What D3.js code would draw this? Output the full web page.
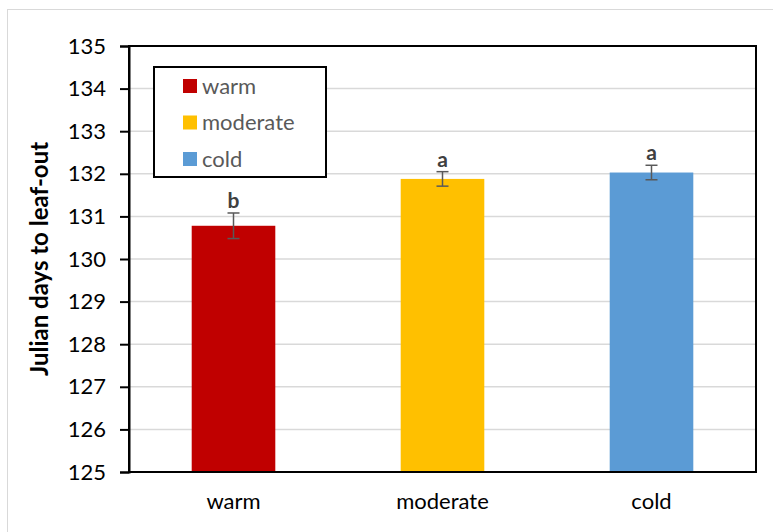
<!DOCTYPE html>
<html>
<head>
<meta charset="utf-8">
<script src="https://cdn.jsdelivr.net/npm/d3@7"></script>
<style>
  body { margin: 0; background: #fff; }
  text { font-family: Lato, "Liberation Sans", sans-serif; }
</style>
</head>
<body>
<script>
// data
const categories = ["warm", "moderate", "cold"];
const values = [130.78, 131.88, 132.03];
const errors = [0.30, 0.17, 0.17];
const letters = ["b", "a", "a"];
const colors = ["#c00000", "#ffc000", "#5b9bd5"];
const yTicks = [125, 126, 127, 128, 129, 130, 131, 132, 133, 134, 135];

const width = 773, height = 532;
const margin = { top: 46, right: 17, bottom: 60, left: 129 };

const svg = d3.select("body").append("svg")
  .attr("width", width)
  .attr("height", height);

// outer chart frame
svg.append("rect")
  .attr("x", 7.5).attr("y", 9.5)
  .attr("width", width).attr("height", height)
  .attr("fill", "none")
  .attr("stroke", "#d9d9d9");

const x = d3.scaleBand()
  .domain(categories)
  .range([margin.left, width - margin.right])
  .paddingInner(0.6)
  .paddingOuter(0.3);

const y = d3.scaleLinear()
  .domain([125, 135])
  .range([height - margin.bottom, margin.top]);

// gridlines
svg.append("g")
  .selectAll("line")
  .data(yTicks.slice(1, -1))
  .join("line")
  .attr("x1", margin.left).attr("x2", width - margin.right)
  .attr("y1", d => y(d)).attr("y2", d => y(d))
  .attr("stroke", "#d9d9d9")
  .attr("stroke-width", 1.5);

// bars
svg.append("g")
  .selectAll("rect")
  .data(categories)
  .join("rect")
  .attr("x", d => x(d))
  .attr("width", x.bandwidth())
  .attr("y", (d, i) => y(values[i]))
  .attr("height", (d, i) => y(125) - y(values[i]))
  .attr("fill", (d, i) => colors[i]);

// error bars
const eb = svg.append("g").attr("stroke", "#595959").attr("stroke-width", 1.5);
categories.forEach((c, i) => {
  const cx = x(c) + x.bandwidth() / 2;
  const top = y(values[i] + errors[i]), bot = y(values[i] - errors[i]);
  eb.append("line").attr("x1", cx).attr("x2", cx).attr("y1", top).attr("y2", bot);
  eb.append("line").attr("x1", cx - 6).attr("x2", cx + 6).attr("y1", top).attr("y2", top);
  eb.append("line").attr("x1", cx - 6).attr("x2", cx + 6).attr("y1", bot).attr("y2", bot);
});

// significance letters
svg.append("g")
  .selectAll("text")
  .data(categories)
  .join("text")
  .attr("x", d => x(d) + x.bandwidth() / 2)
  .attr("y", (d, i) => y(values[i] + errors[i]) - 5)
  .attr("text-anchor", "middle")
  .attr("font-size", 21)
  .attr("font-weight", "bold")
  .attr("fill", "#404040")
  .text((d, i) => letters[i]);

// plot frame
svg.append("rect")
  .attr("x", margin.left).attr("y", margin.top)
  .attr("width", width - margin.right - margin.left)
  .attr("height", height - margin.bottom - margin.top)
  .attr("fill", "none")
  .attr("stroke", "#000")
  .attr("stroke-width", 2);

// y axis
const yAxis = svg.append("g")
  .attr("transform", `translate(${margin.left},0)`)
  .call(d3.axisLeft(y).tickValues(yTicks).tickSize(9).tickPadding(14).tickFormat(d3.format("d")));
yAxis.select(".domain").attr("stroke-width", 2);
yAxis.selectAll(".tick line").attr("stroke-width", 2);
yAxis.selectAll("text").attr("font-size", 22).attr("fill", "#000")
  .style("font-family", "Lato, sans-serif");

// x axis labels
const xAxis = svg.append("g")
  .attr("transform", `translate(0,${height - margin.bottom})`)
  .call(d3.axisBottom(x).tickSize(0).tickPadding(21));
xAxis.select(".domain").remove();
xAxis.selectAll("text").attr("font-size", 22).attr("fill", "#000")
  .style("font-family", "Lato, sans-serif");

// y label
svg.append("text")
  .attr("transform", `translate(48,${(margin.top + height - margin.bottom) / 2}) rotate(-90)`)
  .attr("text-anchor", "middle")
  .attr("font-size", 24)
  .attr("font-weight", "bold")
  .attr("fill", "#000")
  .text("Julian days to leaf-out");

// legend
const legend = svg.append("g");
legend.append("rect")
  .attr("x", 154).attr("y", 67)
  .attr("width", 172).attr("height", 110)
  .attr("fill", "#fff")
  .attr("stroke", "#000")
  .attr("stroke-width", 2);
categories.forEach((c, i) => {
  const ly = 86 + i * 36.5;
  legend.append("rect")
    .attr("x", 183).attr("y", ly - 7)
    .attr("width", 14).attr("height", 14)
    .attr("fill", colors[i]);
  legend.append("text")
    .attr("x", 202).attr("y", ly)
    .attr("dy", "0.35em")
    .attr("font-size", 22)
    .attr("fill", "#595959")
    .text(c);
});
</script>
</body>
</html>
